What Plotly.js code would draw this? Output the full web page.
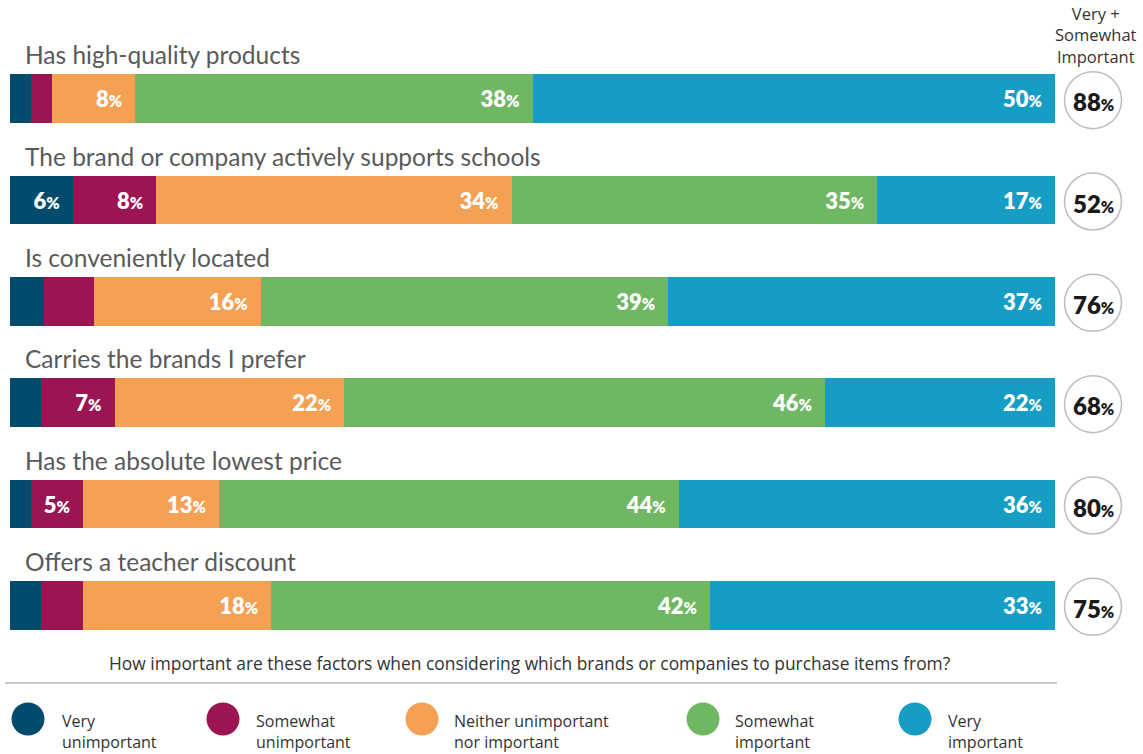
<!DOCTYPE html>
<html><head><meta charset="utf-8">
<script src="https://cdn.plot.ly/plotly-3.0.1.min.js"></script>
<style>html,body{margin:0;padding:0;background:#fff}#chart{width:1143px;height:754px}</style>
</head><body><div id="chart"></div>
<script>
const factors = [
  "Has high-quality products",
  "The brand or company actively supports schools",
  "Is conveniently located",
  "Carries the brands I prefer",
  "Has the absolute lowest price",
  "Offers a teacher discount"
];
const seriesNames = ["Very unimportant","Somewhat unimportant","Neither unimportant nor important","Somewhat important","Very important"];
const legendLabels = ["Very<br>unimportant","Somewhat<br>unimportant","Neither unimportant<br>nor important","Somewhat<br>important","Very<br>important"];
const veryUnimportant     = [2, 6, 3.3, 3, 2, 3];
const somewhatUnimportant = [2, 8, 4.7, 7, 5, 4];
const neither             = [8, 34, 16, 22, 13, 18];
const somewhatImportant   = [38, 35, 39, 46, 44, 42];
const veryImportant       = [50, 17, 37, 22, 36, 33];
const headerText = "Very +<br>Somewhat<br>Important";
const question = "How important are these factors when considering which brands or companies to purchase items from?";
const colors = ["#014c6d","#9b1552","#f4a153","#70b763","#169dc3"];

const series = [veryUnimportant, somewhatUnimportant, neither, somewhatImportant, veryImportant];
const totals = somewhatImportant.map((v,i)=>v+veryImportant[i]);

const W=1143,H=754,M={l:10,r:88,t:48,b:98};
const pw=W-M.l-M.r, ph=H-M.t-M.b;
const px2x = px => (px-M.l)/pw;
const py2y = py => (H-M.b-py)/ph;
const LATO = "Lato, 'Open Sans', sans-serif";
const OPEN = "'Open Sans', Lato, sans-serif";

const fmt = v => v >= 5 ? `${Math.round(v)}<span style="font-size:16px">%</span>\u00a0\u00a0` : '';

const traces = series.map((vals,k)=>({
  type:'bar', orientation:'h', name:seriesNames[k],
  y:factors, x:vals, width:0.483,
  marker:{color:colors[k], line:{width:0}},
  text:vals.map(fmt), textposition:'inside', insidetextanchor:'end',
  textangle:0, constraintext:'none',
  insidetextfont:{family:LATO, size:22, color:'#ffffff', weight:800},
  hoverinfo:'skip', showlegend:false
}));

const annotations = [];
const shapes = [];
factors.forEach((f,i)=>{
  annotations.push({xref:'paper', yref:'y', x:px2x(23), y:i-0.431, xanchor:'left', yanchor:'middle',
    text:f, showarrow:false, font:{family:LATO, size:24.5, color:'#5a5a5a'}});
  const cy = 1-(i+0.5)/factors.length;
  shapes.push({type:'circle', xref:'paper', yref:'paper', xsizemode:'pixel', ysizemode:'pixel',
    xanchor:px2x(1093), yanchor:cy - 1.5/ph, x0:-28.5, x1:28.5, y0:-28.5, y1:28.5,
    fillcolor:'#ffffff', line:{color:'#bdbdbd', width:1.5}});
  annotations.push({xref:'paper', yref:'paper', x:px2x(1093), y:cy - 3/ph, xanchor:'center', yanchor:'middle',
    text:`${totals[i]}<span style="font-size:16px">%</span>`, showarrow:false,
    font:{family:LATO, size:24, color:'#1a1a1a', weight:800}});
});
annotations.push({xref:'paper', yref:'paper', x:px2x(1096), y:py2y(35), xanchor:'center', yanchor:'middle',
  text:headerText, showarrow:false, font:{family:OPEN, size:16.5, color:'#333333'}});
annotations.push({xref:'paper', yref:'paper', x:px2x(530), y:py2y(663), xanchor:'center', yanchor:'middle',
  text:question, showarrow:false, font:{family:OPEN, size:17.4, color:'#333333'}});
shapes.push({type:'line', xref:'paper', yref:'paper', x0:px2x(5), x1:px2x(1057), y0:py2y(683), y1:py2y(683),
  line:{color:'#c8c8c8', width:2}});
const legCx = [28, 223, 422, 703, 915];
const legTx = [60, 254, 452, 733, 946];
seriesNames.forEach((n,k)=>{
  shapes.push({type:'circle', xref:'paper', yref:'paper', xsizemode:'pixel', ysizemode:'pixel',
    xanchor:px2x(legCx[k]), yanchor:py2y(719), x0:-16.5, x1:16.5, y0:-16.5, y1:16.5,
    fillcolor:colors[k], line:{width:0}});
  annotations.push({xref:'paper', yref:'paper', x:px2x(legTx[k]), y:py2y(731.5), xanchor:'left', yanchor:'middle',
    align:'left', text:legendLabels[k], showarrow:false, font:{family:OPEN, size:16, color:'#333333'}});
});

const layout = {
  width:W, height:H, margin:M, barmode:'stack', bargap:0,
  paper_bgcolor:'#ffffff', plot_bgcolor:'#ffffff',
  font:{family:LATO},
  xaxis:{range:[0,100], visible:false, fixedrange:true},
  yaxis:{type:'category', categoryorder:'array', categoryarray:factors, range:[factors.length-0.5,-0.5],
    visible:false, fixedrange:true},
  annotations, shapes, hovermode:false, showlegend:false
};
Plotly.newPlot('chart', traces, layout, {displayModeBar:false, staticPlot:true});
</script></body></html>
